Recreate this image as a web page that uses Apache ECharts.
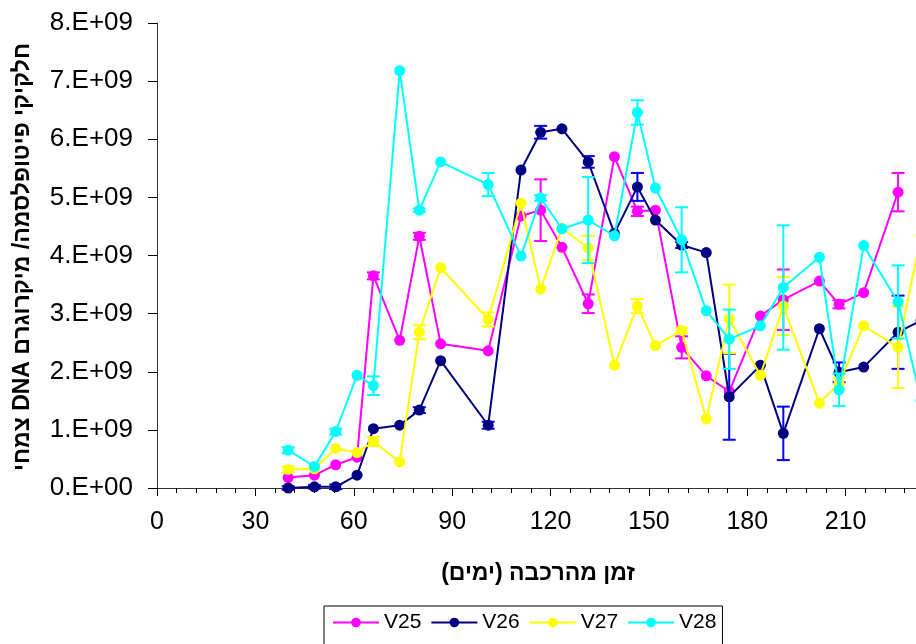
<!DOCTYPE html>
<html>
<head>
<meta charset="utf-8">
<script src="https://cdn.jsdelivr.net/npm/echarts@6/dist/echarts.min.js"></script>
<style>
  html, body { margin: 0; padding: 0; background: #fff; }
  #chart { width: 916px; height: 644px; }
</style>
</head>
<body>
<div id="chart"></div>
<script>
// Sampling days (days since grafting)
const days = [40, 48, 54.5, 61, 66, 74, 80, 86.5, 101, 111, 117, 123.5, 131.5, 139.5, 146.5, 152, 160, 167.5, 174.5, 184, 191, 202, 208, 215.5, 226, 233];

// Phytoplasma particles per microgram plant DNA, in units of 1e9
const V25 = [0.18, 0.22, 0.40, 0.53, 3.65, 2.54, 4.33, 2.48, 2.36, 4.68, 4.78, 4.14, 3.17, 5.70, 4.76, 4.78, 2.42, 1.93, 1.66, 2.96, 3.24, 3.56, 3.16, 3.36, 5.09, null];
const V26 = [0.00, 0.02, 0.02, 0.22, 1.02, 1.08, 1.34, 2.19, 1.08, 5.47, 6.12, 6.18, 5.61, 4.38, 5.18, 4.61, 4.18, 4.05, 1.57, 2.11, 0.94, 2.74, 1.99, 2.08, 2.68, 2.88];
const V27 = [0.32, 0.33, 0.68, 0.61, 0.80, 0.45, 2.68, 3.79, 2.90, 4.90, 3.42, 4.47, 4.13, 2.11, 3.13, 2.45, 2.71, 1.19, 2.91, 1.94, 3.13, 1.46, 1.80, 2.79, 2.42, 4.35];
const V28 = [0.65, 0.37, 0.97, 1.94, 1.76, 7.18, 4.78, 5.61, 5.22, 3.99, 4.99, 4.46, 4.61, 4.34, 6.46, 5.16, 4.27, 3.05, 2.56, 2.79, 3.45, 3.97, 1.69, 4.17, 3.20, 1.50];

// Standard errors (same units), null where no bar is drawn
const V25err = [null, null, null, null, 0.06, null, 0.06, null, null, null, 0.53, null, 0.16, null, 0.08, null, 0.19, null, null, null, 0.52, null, 0.07, null, 0.33, null];
const V26err = [0.03, 0.03, 0.04, null, null, null, 0.05, null, 0.06, null, 0.11, null, 0.10, null, 0.24, null, 0.05, null, 0.74, null, 0.46, null, 0.17, null, 0.63, null];
const V27err = [0.05, null, null, null, 0.08, null, 0.12, null, 0.12, null, null, null, 0.21, null, 0.12, null, 0.05, null, 0.59, null, 0.50, null, 0.10, null, 0.70, null];
const V28err = [0.05, null, 0.05, null, 0.16, null, 0.03, null, 0.20, null, 0.05, null, 0.74, null, 0.21, null, 0.56, null, 0.51, null, 1.07, null, 0.28, null, 0.63, null];

const names = ['V25', 'V26', 'V27', 'V28'];
const values = [V25, V26, V27, V28];
const errors = [V25err, V26err, V27err, V28err];
const lineColors = ['#FF00FF', '#000080', '#FFFF00', '#00FFFF'];
const barColors = ['#FF00FF', '#0000FF', '#FFFF00', '#00FFFF'];

const FONT = '"Liberation Sans", Arial, sans-serif';
const RLE = '\u202B', PDF = '\u202C';
const yTitle = 'חלקיקי פיטופלסמה/ מיקרוגרם DNA צמחי';
const xTitle = 'זמן מהרכבה (ימים)';

function errorBarItem(params, api) {
  const x = api.value(0), y = api.value(1), e = api.value(2);
  const top = api.coord([x, y + e]);
  const bot = api.coord([x, y - e]);
  const hw = 6.5;
  const style = { stroke: api.visual('color'), lineWidth: 2 };
  return {
    type: 'group',
    children: [
      { type: 'line', shape: { x1: top[0], y1: top[1], x2: bot[0], y2: bot[1] }, style },
      { type: 'line', shape: { x1: top[0] - hw, y1: top[1], x2: top[0] + hw, y2: top[1] }, style },
      { type: 'line', shape: { x1: bot[0] - hw, y1: bot[1], x2: bot[0] + hw, y2: bot[1] }, style }
    ]
  };
}

const series = [];
names.forEach((name, k) => {
  const pts = [];
  const bars = [];
  days.forEach((d, i) => {
    const v = values[k][i];
    if (v === null) return;
    pts.push([d, v]);
    const e = errors[k][i];
    if (e !== null) bars.push([d, v, e]);
  });
  series.push({
    name,
    type: 'line',
    data: pts,
    symbol: 'circle',
    symbolSize: 11,
    showAllSymbol: true,
    lineStyle: { color: lineColors[k], width: 2 },
    itemStyle: { color: lineColors[k] },
    emphasis: { disabled: true },
    z: 3 + k
  });
  series.push({
    name: name + ' err',
    type: 'custom',
    data: bars,
    encode: { x: 0, y: 1 },
    renderItem: errorBarItem,
    itemStyle: { color: barColors[k] },
    z: 3 + k
  });
});

const chart = echarts.init(document.getElementById('chart'), null, { renderer: 'canvas' });
chart.setOption({
  animation: false,
  backgroundColor: '#ffffff',
  textStyle: { fontFamily: FONT, color: '#000' },
  grid: { left: 157, top: 23, bottom: 156, right: -28, containLabel: false, outerBoundsMode: 'none' },
  xAxis: {
    type: 'value',
    min: 0,
    max: 240,
    interval: 30,
    axisLine: { show: true, onZero: false, lineStyle: { color: '#333', width: 1 } },
    axisTick: { show: true, length: 8, lineStyle: { color: '#000' } },
    minorTick: { show: true, splitNumber: 5, length: 5, lineStyle: { color: '#000' } },
    splitLine: { show: false },
    axisLabel: { fontSize: 25, fontFamily: FONT, color: '#000', margin: 22, showMaxLabel: false }
  },
  yAxis: {
    type: 'value',
    min: 0,
    max: 8,
    interval: 1,
    axisLine: { show: true, lineStyle: { color: '#333', width: 1 } },
    axisTick: { show: true, length: 9, lineStyle: { color: '#000' } },
    splitLine: { show: false },
    axisLabel: {
      fontSize: 26, fontFamily: FONT, color: '#000', margin: 24,
      formatter: v => (v === 0 ? '0.E+00' : v + '.E+09')
    }
  },
  legend: {
    data: names,
    orient: 'horizontal',
    left: 324,
    top: 606,
    padding: [6, 6, 40, 8],
    itemWidth: 46,
    itemHeight: 12,
    itemGap: 9,
    borderColor: '#000',
    borderWidth: 1,
    selectedMode: false,
    textStyle: { fontSize: 21, fontFamily: FONT, color: '#000' }
  },
  graphic: [
    {
      type: 'text',
      x: 23,
      y: 257,
      rotation: Math.PI / 2,
      style: {
        text: RLE + yTitle + PDF,
        font: 'bold 23px ' + FONT,
        fill: '#000',
        align: 'center',
        verticalAlign: 'middle'
      }
    },
    {
      type: 'text',
      x: 538,
      y: 574,
      style: {
        text: RLE + xTitle + PDF,
        font: 'bold 23px ' + FONT,
        fill: '#000',
        align: 'center',
        verticalAlign: 'middle'
      }
    }
  ],
  series
});
</script>
</body>
</html>
